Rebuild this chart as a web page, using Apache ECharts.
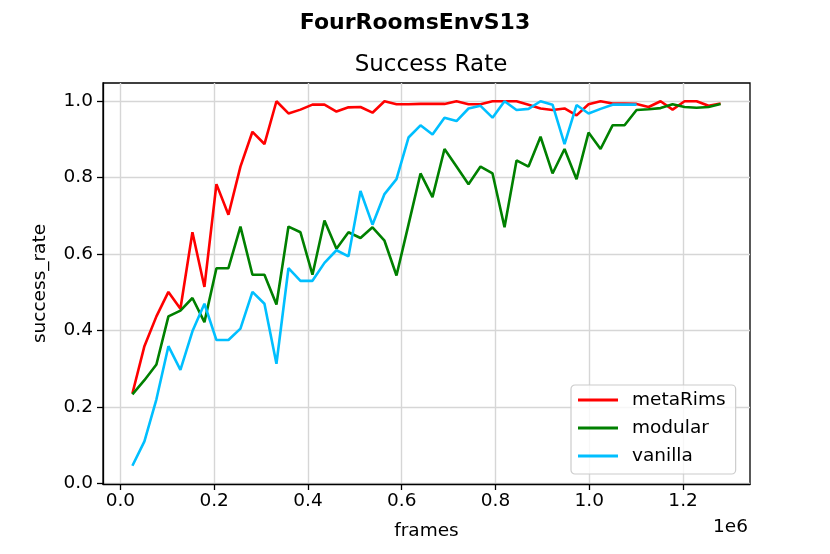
<!DOCTYPE html>
<html>
<head>
<meta charset="utf-8">
<script src="https://cdn.jsdelivr.net/npm/echarts@6/dist/echarts.min.js"></script>
<style>html,body{margin:0;padding:0;background:#fff;}#chart{width:830px;height:554px;}</style>
</head>
<body>
<div id="chart"></div>
<script>
const frames = [25600, 51200, 76800, 102400, 128000, 153600, 179200, 204800, 230400, 256000,
  281600, 307200, 332800, 358400, 384000, 409600, 435200, 460800, 486400, 512000,
  537600, 563200, 588800, 614400, 640000, 665600, 691200, 716800, 742400, 768000,
  793600, 819200, 844800, 870400, 896000, 921600, 947200, 972800, 998400, 1024000,
  1049600, 1075200, 1100800, 1126400, 1152000, 1177600, 1203200, 1228800, 1254400, 1280000];

const metaRims = [0.235, 0.359, 0.437, 0.501, 0.457, 0.657, 0.514, 0.783, 0.703, 0.829,
  0.920, 0.888, 1.000, 0.968, 0.978, 0.991, 0.991, 0.973, 0.984, 0.985,
  0.970, 1.000, 0.992, 0.992, 0.993, 0.993, 0.993, 1.000, 0.992, 0.992,
  1.000, 1.000, 1.000, 0.991, 0.981, 0.977, 0.981, 0.963, 0.992, 1.000,
  0.994, 0.994, 0.993, 0.985, 1.000, 0.978, 1.000, 1.000, 0.988, 0.994];

const modular = [0.233, 0.270, 0.311, 0.437, 0.452, 0.485, 0.422, 0.563, 0.563, 0.672,
  0.546, 0.546, 0.468, 0.672, 0.657, 0.546, 0.688, 0.614, 0.657, 0.642,
  0.670, 0.635, 0.544, 0.677, 0.811, 0.749, 0.875, 0.829, 0.783, 0.829,
  0.811, 0.670, 0.845, 0.829, 0.907, 0.811, 0.875, 0.796, 0.918, 0.875,
  0.937, 0.937, 0.977, 0.979, 0.982, 0.992, 0.985, 0.983, 0.985, 0.993];

const vanilla = [0.046, 0.110, 0.220, 0.359, 0.297, 0.398, 0.470, 0.375, 0.375, 0.405,
  0.501, 0.470, 0.313, 0.563, 0.530, 0.530, 0.577, 0.610, 0.594, 0.765,
  0.677, 0.757, 0.796, 0.905, 0.937, 0.913, 0.957, 0.948, 0.981, 0.988,
  0.957, 1.000, 0.977, 0.980, 1.000, 0.991, 0.888, 0.990, 0.968, 0.980,
  0.991, 0.991, 0.991];

const xTicks = [0, 200000, 400000, 600000, 800000, 1000000, 1200000];
const yTicks = [0, 0.2, 0.4, 0.6, 0.8, 1.0];
const seriesNames = ['metaRims', 'modular', 'vanilla'];
const seriesColors = ['#ff0000', '#008000', '#00bfff'];
const seriesValues = [metaRims, modular, vanilla];

const FONT = 'DejaVu Sans';
const chart = echarts.init(document.getElementById('chart'), null, {renderer: 'canvas'});

const series = seriesNames.map((name, k) => ({
  name: name,
  type: 'line',
  symbol: 'none',
  smooth: false,
  data: seriesValues[k].map((v, i) => [frames[i], v]),
  lineStyle: {color: seriesColors[k], width: 2.6},
  itemStyle: {color: seriesColors[k]},
  emphasis: {disabled: true},
  animation: false
}));

chart.setOption({
  animation: false,
  backgroundColor: '#fff',
  title: [
    {text: 'FourRoomsEnvS13', left: 'center', top: 7,
     textStyle: {fontFamily: FONT, fontSize: 22, fontWeight: 'bold', color: '#000'}},
    {text: 'Success Rate', left: 426, textAlign: 'center', top: 49,
     textStyle: {fontFamily: FONT, fontSize: 23, fontWeight: 'normal', color: '#000'}}
  ],
  grid: {left: 103, right: 80, top: 83, bottom: 70, show: true, borderColor: '#000', borderWidth: 1.3, containLabel: false},
  legend: {
    orient: 'vertical',
    left: 571, top: 385,
    data: seriesNames,
    icon: 'rect',
    itemWidth: 40, itemHeight: 3,
    itemGap: 8,
    padding: [5, 10, 8, 7],
    backgroundColor: 'rgba(255,255,255,0.8)',
    borderColor: '#cccccc', borderWidth: 1.2, borderRadius: 4,
    textStyle: {fontFamily: FONT, fontSize: 18.5, color: '#000', lineHeight: 20, padding: [0, 0, 0, 9]}
  },
  xAxis: {
    type: 'value',
    min: -37120, max: 1342720,
    name: 'frames', nameLocation: 'middle', nameGap: 38,
    nameTextStyle: {fontFamily: FONT, fontSize: 18.5, color: '#000'},
    axisLine: {show: true, onZero: false, lineStyle: {color: '#000', width: 1.3}},
    axisTick: {show: true, length: 6, lineStyle: {color: '#000', width: 1.3}, customValues: xTicks},
    axisLabel: {show: true, margin: 8, fontFamily: FONT, fontSize: 18.5, color: '#000',
      customValues: xTicks, formatter: v => (v / 1e6).toFixed(1)},
    splitLine: {show: true, lineStyle: {color: '#d6d6d6', width: 1.4}}
  },
  yAxis: {
    type: 'value',
    min: -0.0017, max: 1.0477,
    name: 'success_rate', nameLocation: 'middle', nameGap: 53, nameRotate: 90,
    nameTextStyle: {fontFamily: FONT, fontSize: 18.5, color: '#000'},
    axisLine: {show: true, onZero: false, lineStyle: {color: '#000', width: 1.3}},
    axisTick: {show: true, length: 6, lineStyle: {color: '#000', width: 1.3}, customValues: yTicks},
    axisLabel: {show: true, margin: 10, fontFamily: FONT, fontSize: 18.5, color: '#000',
      customValues: yTicks, formatter: v => v.toFixed(1)},
    splitLine: {show: true, lineStyle: {color: '#d6d6d6', width: 1.4}}
  },
  graphic: [
    {type: 'text', right: 82, top: 518, style: {text: '1e6', font: '18.5px "DejaVu Sans"', fill: '#000'}}
  ],
  series: series
});
</script>
</body>
</html>
